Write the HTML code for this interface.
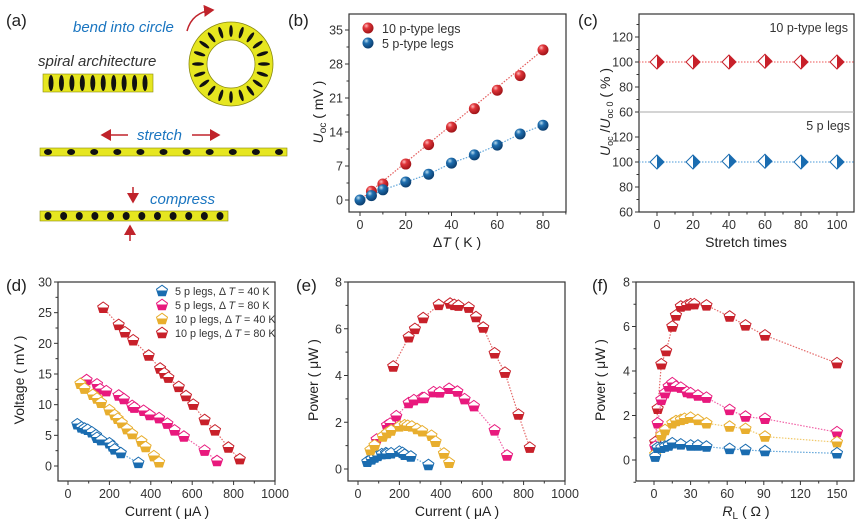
<!DOCTYPE html>
<html><head><meta charset="utf-8"><style>
html,body{margin:0;padding:0;background:#fff;width:865px;height:523px;overflow:hidden}
svg{display:block;font-family:"Liberation Sans",sans-serif}
</style></head><body>
<svg id="s" width="865" height="523" viewBox="0 0 865 523" xmlns="http://www.w3.org/2000/svg">
<defs>
<marker id="ah" markerWidth="8" markerHeight="8" refX="6" refY="4" orient="auto"><path d="M0,0 L7,4 L0,8 Z" fill="#c0232b"/></marker>
<radialGradient id="gr" cx="0.35" cy="0.3" r="0.7"><stop offset="0" stop-color="#fbb"/><stop offset="0.35" stop-color="#e0353a"/><stop offset="1" stop-color="#a01418"/></radialGradient>
<radialGradient id="gb" cx="0.35" cy="0.3" r="0.7"><stop offset="0" stop-color="#bde"/><stop offset="0.35" stop-color="#1f6fb0"/><stop offset="1" stop-color="#0c3f70"/></radialGradient>
</defs>
</svg>
<script>
var S=document.getElementById('s'),NS='http://www.w3.org/2000/svg';
function el(t,at,txt,par){var e=document.createElementNS(NS,t);for(var k in at)e.setAttribute(k,at[k]);if(txt!=null)e.textContent=txt;(par||S).appendChild(e);return e}
var defs=S.querySelector('defs');
function grad(id,c,dir){var g=el('linearGradient',dir=='h'?{id:id,x1:0,y1:0,x2:1,y2:0}:{id:id,x1:0,y1:0,x2:0,y2:1},null,defs);
el('stop',{offset:0.5,'stop-color':'#fff'},null,g);el('stop',{offset:0.5,'stop-color':c},null,g);}
var C={b:'#1a6cb0',p:'#e8197d',y:'#e8ae2e',r:'#c8202a'};
for(var k in C){grad('v'+k,C[k],'v');grad('h'+k,C[k],'h');}
function T(x,y,s,sz,col,st,anchor){return el('text',{x:x,y:y,'font-size':sz,fill:col,'font-style':st||'normal','text-anchor':anchor||'start'},s)}
T(6,26,'(a)',17,'#222');
T(73,32,'bend into circle',15,'#1a75c0','italic');
T(38,66,'spiral architecture',15,'#333','italic');
T(137,140,'stretch',15,'#1a75c0','italic');
T(150,204,'compress',15,'#1a75c0','italic');
el('path',{d:'M187,31 Q192,12 213,10',fill:'none',stroke:'#c0232b','stroke-width':1.5,'marker-end':'url(#ah)'});
el('line',{x1:128,y1:135,x2:102,y2:135,stroke:'#c0232b','stroke-width':1.5,'marker-end':'url(#ah)'});
el('line',{x1:192,y1:135,x2:219,y2:135,stroke:'#c0232b','stroke-width':1.5,'marker-end':'url(#ah)'});
el('line',{x1:133,y1:187,x2:133,y2:202,stroke:'#c0232b','stroke-width':1.5,'marker-end':'url(#ah)'});
el('line',{x1:130,y1:241,x2:130,y2:226,stroke:'#c0232b','stroke-width':1.5,'marker-end':'url(#ah)'});
function coil(x0,x1,y,h,n,dw){el('rect',{x:x0,y:y-h/2,width:x1-x0,height:h,fill:'#e6e620',stroke:'#8a8a10','stroke-width':0.6});
for(var i=0;i<n;i++){var cx=x0+8+i*(x1-x0-16)/(n-1);el('ellipse',{cx:cx,cy:y,rx:dw,ry:h/2-1,fill:'#111'});}}
coil(43,153,83,18,10,2.5);
coil(40,287,152,8,11,4);
coil(40,228,216,10,12,3.5);
el('circle',{cx:231,cy:64,r:33,fill:'none',stroke:'#e6e620','stroke-width':18});
el('circle',{cx:231,cy:64,r:42,fill:'none',stroke:'#8a8a10','stroke-width':0.8});
el('circle',{cx:231,cy:64,r:24,fill:'none',stroke:'#8a8a10','stroke-width':0.8});
for(var i=0;i<20;i++){var a=i*Math.PI/10;el('ellipse',{cx:231+33*Math.cos(a),cy:64+33*Math.sin(a),rx:6,ry:1.8,fill:'#111',transform:'rotate('+(a*180/Math.PI)+' '+(231+33*Math.cos(a))+' '+(64+33*Math.sin(a))+')'});}

function axes(o){
 var X=function(v){return o.x0+(v-o.xv0)*(o.x1-o.x0)/(o.xv1-o.xv0)};
 el('rect',{x:o.L,y:o.T,width:o.R-o.L,height:o.B-o.T,fill:'none',stroke:'#333','stroke-width':1.2});
 o.xt.forEach(function(v){var x=X(v);el('line',{x1:x,y1:o.B,x2:x,y2:o.B+4,stroke:'#333'});T(x,o.B+17,String(v),12.5,'#333','normal','middle');});
 (o.xm||[]).forEach(function(v){var x=X(v);el('line',{x1:x,y1:o.B,x2:x,y2:o.B+2.5,stroke:'#333'});});
 return X;}
function yt(o,Y,vals,minor){vals.forEach(function(v){var y=Y(v);el('line',{x1:o.L,y1:y,x2:o.L-4,y2:y,stroke:'#333'});T(o.L-6,y+4.5,String(v),12.5,'#333','normal','end');});
 (minor||[]).forEach(function(v){var y=Y(v);el('line',{x1:o.L,y1:y,x2:o.L-2.5,y2:y,stroke:'#333'});});}
function line(pts,col){el('polyline',{points:pts.map(function(p){return p.join(',')}).join(' '),fill:'none',stroke:col,'stroke-width':1.2,'stroke-dasharray':'1.5,1.5','stroke-opacity':0.8});}
function pent(x,y,k){var r=5.8,p=[];for(var i=0;i<5;i++){var a=-Math.PI/2+i*2*Math.PI/5;p.push((x+r*Math.cos(a)).toFixed(1)+','+(y+r*Math.sin(a)).toFixed(1));}
 el('polygon',{points:p.join(' '),fill:'url(#v'+k+')',stroke:C[k],'stroke-width':1});}
function diam(x,y,k){el('polygon',{points:(x)+','+(y-7)+' '+(x+7)+','+y+' '+x+','+(y+7)+' '+(x-7)+','+y,fill:'url(#h'+k+')',stroke:C[k],'stroke-width':1});}
function ylabel(x,y,s){var t=el('text',{x:0,y:0,'font-size':14,fill:'#222','text-anchor':'middle',transform:'translate('+x+','+y+') rotate(-90)'});t.innerHTML=s;}

T(288,26,'(b)',17,'#222');
var ob={L:349,R:566,T:14,B:212,x0:360,x1:543,xv0:0,xv1:80,xt:[0,20,40,60,80],xm:[10,30,50,70,90]};
var Xb=axes(ob),Yb=function(v){return 200-v*170/35};
yt(ob,Yb,[0,7,14,21,28,35],[3.5,10.5,17.5,24.5,31.5]);
var br=[[5,1.8],[10,3.3],[20,7.4],[30,11.4],[40,15],[50,18.8],[60,22.6],[70,25.6],[80,30.9]];
var bb=[[0,0],[5,0.9],[10,2.1],[20,3.7],[30,5.3],[40,7.6],[50,9.3],[60,11.3],[70,13.6],[80,15.4]];
line([[Xb(0),Yb(0)],[Xb(80),Yb(30.9)]],'#d33');
line(bb.map(function(p){return[Xb(p[0]),Yb(p[1])]}),'#3a8fd0');
br.forEach(function(p){el('circle',{cx:Xb(p[0]),cy:Yb(p[1]),r:5.5,fill:'url(#gr)'})});
bb.forEach(function(p){el('circle',{cx:Xb(p[0]),cy:Yb(p[1]),r:5.5,fill:'url(#gb)'})});
el('circle',{cx:368,cy:28,r:5.5,fill:'url(#gr)'});T(382,33,'10 p-type legs',12.5,'#333');
el('circle',{cx:368,cy:43,r:5.5,fill:'url(#gb)'});T(382,48,'5 p-type legs',12.5,'#333');
ylabel(323,112,'<tspan font-style="italic">U</tspan><tspan font-size="10" dy="3">oc</tspan><tspan dy="-3"> ( mV )</tspan>');
var tb=el('text',{x:457,y:247,'font-size':14,fill:'#222','text-anchor':'middle'});tb.innerHTML='Δ<tspan font-style="italic">T</tspan> ( K )';

T(578,26,'(c)',17,'#222');
var oc={L:639,R:854,T:14,B:212,x0:657,x1:837,xv0:0,xv1:100,xt:[0,20,40,60,80,100],xm:[10,30,50,70,90]};
var Xc=axes(oc);
var Yu=function(v){return 112-(v-60)*1.25},Yl=function(v){return 212-(v-60)*1.25};
yt(oc,Yu,[60,80,100,120],[70,90,110,130]);yt(oc,Yl,[60,80,100,120],[70,90,110]);
el('line',{x1:639,y1:112,x2:854,y2:112,stroke:'#aaa','stroke-width':1});
line([[639,Yu(100)],[854,Yu(100)]],'#e55');line([[639,Yl(100)],[854,Yl(100)]],'#4a9ad8');
[0,20,40,60,80,100].forEach(function(v,i){diam(Xc(v),Yu(100+(i==3?0.6:0)),'r');diam(Xc(v),Yl(100+(i==2||i==3?0.6:0)),'b');});
T(848,32,'10 p-type legs',12.5,'#333','normal','end');
T(850,130,'5 p legs',12.5,'#333','normal','end');
ylabel(610,112,'<tspan font-style="italic">U</tspan><tspan font-size="9" dy="3">oc</tspan><tspan dy="-3"> /</tspan><tspan font-style="italic">U</tspan><tspan font-size="9" dy="3">oc 0</tspan><tspan dy="-3"> ( % )</tspan>');
T(746,247,'Stretch times',14,'#222','normal','middle');

var D={
b:[[45,6.8],[65,6.3],[80,6.1],[95,5.9],[115,5.5],[135,5.0],[140,4.6],[160,4.2],[200,3.7],[215,3.2],[225,2.7],[255,2.1],[340,0.5]],
p:[[90,14],[140,13.3],[155,12.5],[185,12.2],[245,11.5],[270,10.9],[310,9.8],[320,9.5],[365,9],[395,8.3],[440,7.8],[480,6.9],[515,5.8],[560,4.8],[660,2.5],[720,0.8]],
y:[[60,13.4],[80,12.6],[120,11.6],[140,11],[160,10.3],[200,9.1],[225,8.3],[240,7.7],[260,7],[285,6],[310,5.2],[355,4],[375,3.1],[415,1.6],[440,0.6]],
r:[[170,25.8],[245,23],[275,21.8],[315,20.5],[390,18],[445,15.9],[465,15.1],[485,14.4],[535,12.9],[570,11.4],[605,10],[660,7.5],[710,5.8],[775,3],[830,1.1]]};
var LC={b:'#3a8fd0',p:'#ee3a90',y:'#eebb44',r:'#dd4444'};
T(6,291,'(d)',17,'#222');
var od={L:58,R:275,T:282,B:481,x0:68,x1:275,xv0:0,xv1:1000,xt:[0,200,400,600,800,1000],xm:[100,300,500,700,900]};
var Xd=axes(od),Yd=function(v){return 466-v*184/30};
yt(od,Yd,[0,5,10,15,20,25,30],[2.5,7.5,12.5,17.5,22.5,27.5]);
['b','p','y','r'].forEach(function(k){line(D[k].map(function(p){return[Xd(p[0]),Yd(p[1])]}),LC[k]);D[k].forEach(function(p){pent(Xd(p[0]),Yd(p[1]),k)});});
var lg=[['b','5 p legs,  Δ','40 K'],['p','5 p legs,  Δ','80 K'],['y','10 p legs,  Δ','40 K'],['r','10 p legs,  Δ','80 K']];
lg.forEach(function(l,i){var y=291+i*14;pent(162,y,l[0]);var t=el('text',{x:175,y:y+4,'font-size':10.8,fill:'#333'});t.innerHTML=l[1]+' <tspan font-style="italic">T</tspan> = '+l[2];});
ylabel(24,380,'Voltage ( mV )');
T(167,516,'Current ( μA )',14,'#222','normal','middle');

T(296,291,'(e)',17,'#222');
var oe={L:348,R:565,T:282,B:481,x0:358,x1:565,xv0:0,xv1:1000,xt:[0,200,400,600,800,1000],xm:[100,300,500,700,900]};
var Xe=axes(oe),Ye=function(v){return 469-v*187/8};
yt(oe,Ye,[0,2,4,6,8],[1,3,5,7]);
['b','p','y','r'].forEach(function(k){var pts=D[k].map(function(p){return[p[0],p[0]*p[1]/1000]});line(pts.map(function(p){return[Xe(p[0]),Ye(p[1])]}),LC[k]);pts.forEach(function(p){pent(Xe(p[0]),Ye(p[1]),k)});});
ylabel(318,380,'Power ( μW )');
T(457,516,'Current ( μA )',14,'#222','normal','middle');

T(592,291,'(f)',17,'#222');
var of={L:636,R:854,T:282,B:481,x0:654,x1:837,xv0:0,xv1:150,xt:[0,30,60,90,120,150],xm:[15,45,75,105,135]};
var Xf=axes(of),Yf=function(v){return 460-v*178/8};
yt(of,Yf,[0,2,4,6,8],[-1,1,3,5,7]);
var F={
r:[[1,0.8],[3,2.3],[6,4.3],[10,4.9],[15,6.0],[18,6.5],[22,6.9],[27,6.95],[30,7.0],[33,7.0],[43,6.95],[62,6.45],[75,6.05],[91,5.6],[150,4.35]],
p:[[1,0.6],[3,1.65],[6,2.7],[9,3.0],[12,3.3],[15,3.45],[18,3.3],[22,3.25],[27,3.05],[30,3.0],[36,2.9],[43,2.8],[62,2.25],[75,1.95],[91,1.85],[150,1.25]],
y:[[1,0.25],[3,0.55],[6,1.1],[9,1.35],[15,1.65],[18,1.75],[22,1.8],[25,1.85],[30,1.9],[36,1.8],[43,1.65],[62,1.5],[75,1.4],[91,1.05],[150,0.8]],
b:[[1,0.15],[3,0.55],[6,0.55],[9,0.6],[12,0.65],[15,0.75],[22,0.7],[30,0.65],[36,0.65],[43,0.6],[62,0.5],[75,0.45],[91,0.4],[150,0.3]]};
['r','p','y','b'].forEach(function(k){line(F[k].map(function(p){return[Xf(p[0]),Yf(p[1])]}),LC[k]);F[k].forEach(function(p){pent(Xf(p[0]),Yf(p[1]),k)});});
ylabel(605,380,'Power ( μW )');
var tf=el('text',{x:746,y:516,'font-size':14,fill:'#222','text-anchor':'middle'});tf.innerHTML='<tspan font-style="italic">R</tspan><tspan font-size="10" dy="3">L</tspan><tspan dy="-3"> ( Ω )</tspan>';
</script>
</body></html>
